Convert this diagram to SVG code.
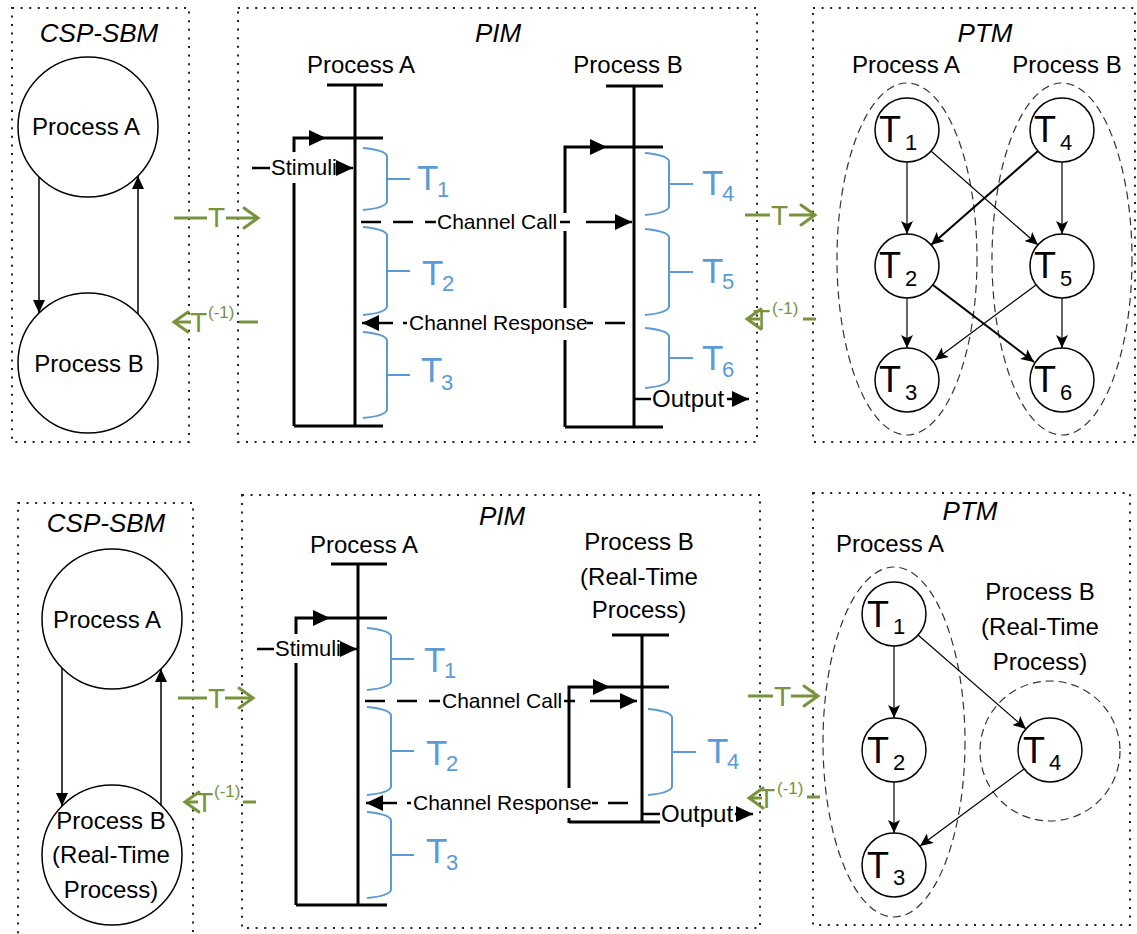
<svg xmlns="http://www.w3.org/2000/svg" width="1137" height="934" viewBox="0 0 1137 934">
<style>
text{font-family:"Liberation Sans",Arial,sans-serif;fill:#000}
.box{fill:none;stroke:#222;stroke-width:2;stroke-dasharray:2 6.6}
.title{font-size:26px;font-style:italic;text-anchor:middle}
.proc{font-size:24px;text-anchor:middle}
.lab{font-size:21px}
.node{fill:#fff;stroke:#000;stroke-width:1.5}
.lane{fill:none;stroke:#000;stroke-width:3}
.brace{fill:none;stroke:#5B9BD5;stroke-width:2}
.tb{font-size:35px;fill:#5B9BD5}
.tbs{font-size:22px;fill:#5B9BD5}
.pt{font-size:36px}
.pts{font-size:22px}
.grp{fill:none;stroke:#333;stroke-width:1.2;stroke-dasharray:8 5}
.edge{fill:none;stroke:#000;stroke-width:1.2}
.edge2{fill:none;stroke:#000;stroke-width:2}
.cspe{fill:none;stroke:#000;stroke-width:1.5}
.dash{fill:none;stroke:#000;stroke-width:2.5;stroke-dasharray:20 12}
.sol{fill:none;stroke:#000;stroke-width:2.5}
.green{fill:none;stroke:#77933C;stroke-width:3}
.gt{font-size:28px;fill:#77933C}
.gs{font-size:17px;fill:#77933C}
</style>
<defs>
<marker id="csptri" viewBox="0 0 13 12" refX="13" refY="6" markerWidth="13" markerHeight="12" markerUnits="userSpaceOnUse" orient="auto"><path d="M0,0 L13,6 L0,12 z" fill="#000"/></marker>
<marker id="pimtri" viewBox="0 0 17 16" refX="17" refY="8" markerWidth="17" markerHeight="16" markerUnits="userSpaceOnUse" orient="auto"><path d="M0,0 L17,8 L0,16 z" fill="#000"/></marker>
<marker id="ptmarr" viewBox="0 0 13 12" refX="13" refY="6" markerWidth="13" markerHeight="12" markerUnits="userSpaceOnUse" orient="auto"><path d="M0,0 L13,6 L0,12 L3,6 z" fill="#000"/></marker>
<marker id="chev" viewBox="-3 -3 20 26" refX="14" refY="10" markerWidth="20" markerHeight="26" markerUnits="userSpaceOnUse" orient="auto"><path d="M0,0 L14,10 L0,20" fill="none" stroke="#77933C" stroke-width="3" stroke-linecap="round"/></marker>
</defs>

<g id="panels">
<rect class="box" x="12" y="8" width="177" height="434"/>
<rect class="box" x="238" y="8" width="519" height="434"/>
<rect class="box" x="813" y="8" width="322" height="434"/>
<rect class="box" x="18" y="503" width="175" height="440"/>
<rect class="box" x="242" y="495" width="518" height="433"/>
<rect class="box" x="813" y="493" width="317" height="432"/>
<text class="title" x="99" y="42">CSP-SBM</text>
<text class="title" x="498" y="42">PIM</text>
<text class="title" x="985" y="42">PTM</text>
<text class="title" x="106" y="532">CSP-SBM</text>
<text class="title" x="502" y="525">PIM</text>
<text class="title" x="970" y="520">PTM</text>
</g>

<!-- ===== Top row ===== -->
<g id="csp1-procA"><circle class="node" cx="88" cy="127" r="70"/><text class="proc" x="86" y="135">Process A</text></g>
<g id="csp1-procB"><circle class="node" cx="88" cy="363" r="70"/><text class="proc" x="89" y="372">Process B</text></g>

<g id="pim1-procA">
<text class="proc" x="361" y="73">Process A</text>
<path class="lane" d="M327,85 H383 M355,85 V426 M294,426 H383 M326,138 H383 M294,183 V426"/>
<path class="lane" d="M294,152 V138 H326" marker-end="url(#pimtri)"/>
<path class="brace" d="M363,148 Q385,150 387,156 V202 Q385,208 363,210 M387,179 H410"/>
<path class="brace" d="M363,227 Q385,229 387,235 V307 Q385,313 363,315 M387,271 H410"/>
<path class="brace" d="M363,332 Q385,334 387,340 V410 Q385,416 363,418 M387,375 H410"/>
<text class="tb" x="417" y="190">T<tspan class="tbs" x="437" y="197">1</tspan></text>
<text class="tb" x="422" y="285">T<tspan class="tbs" x="442" y="291">2</tspan></text>
<text class="tb" x="421" y="382">T<tspan class="tbs" x="441" y="390">3</tspan></text>
</g>

<g id="pim1-procB">
<text class="proc" x="628" y="73">Process B</text>
<path class="lane" d="M606,86 H663 M634,86 V427 M565,427 H663 M607,147 H663 M565,231 V308 M565,340 V427"/>
<path class="lane" d="M565,213 V147 H607" marker-end="url(#pimtri)"/>
<path class="brace" d="M645,153 Q667,155 669,161 V207 Q667,213 645,215 M669,184 H693"/>
<path class="brace" d="M645,229 Q667,231 669,237 V307 Q667,313 645,315 M669,272 H693"/>
<path class="brace" d="M645,328 Q667,330 669,336 V380 Q667,386 645,388 M669,358 H693"/>
<text class="tb" x="702" y="195">T<tspan class="tbs" x="722" y="201">4</tspan></text>
<text class="tb" x="702" y="283">T<tspan class="tbs" x="722" y="289">5</tspan></text>
<text class="tb" x="702" y="370">T<tspan class="tbs" x="722" y="377">6</tspan></text>
</g>

<g id="ptm1-groups">
<ellipse class="grp" cx="907" cy="259" rx="70" ry="176"/>
<ellipse class="grp" cx="1062" cy="259" rx="70" ry="176"/>
<text class="proc" x="906" y="73">Process A</text>
<text class="proc" x="1067" y="73">Process B</text>
</g>
<g id="ptm1-T1"><circle class="node" cx="907" cy="130" r="32"/><text class="pt" x="879" y="142">T<tspan class="pts" x="905" y="150">1</tspan></text></g>
<g id="ptm1-T2"><circle class="node" cx="907" cy="266" r="32"/><text class="pt" x="879" y="278">T<tspan class="pts" x="905" y="286">2</tspan></text></g>
<g id="ptm1-T3"><circle class="node" cx="907" cy="380" r="32"/><text class="pt" x="879" y="392">T<tspan class="pts" x="905" y="400">3</tspan></text></g>
<g id="ptm1-T4"><circle class="node" cx="1062" cy="130" r="32"/><text class="pt" x="1034" y="142">T<tspan class="pts" x="1060" y="150">4</tspan></text></g>
<g id="ptm1-T5"><circle class="node" cx="1062" cy="266" r="32"/><text class="pt" x="1034" y="278">T<tspan class="pts" x="1060" y="286">5</tspan></text></g>
<g id="ptm1-T6"><circle class="node" cx="1062" cy="380" r="32"/><text class="pt" x="1034" y="392">T<tspan class="pts" x="1060" y="400">6</tspan></text></g>

<!-- ===== Bottom row ===== -->
<g id="csp2-procA"><circle class="node" cx="112" cy="619" r="70"/><text class="proc" x="107" y="628">Process A</text></g>
<g id="csp2-procB"><circle class="node" cx="112" cy="855" r="70"/>
<text class="proc" x="111" y="829">Process B</text><text class="proc" x="111" y="863">(Real-Time</text><text class="proc" x="111" y="898">Process)</text></g>

<g id="pim2-procA">
<text class="proc" x="364" y="553">Process A</text>
<path class="lane" d="M331,564 H387 M358,564 V905 M296,905 H387 M330,618 H387 M296,663 V905"/>
<path class="lane" d="M296,634 V618 H330" marker-end="url(#pimtri)"/>
<path class="brace" d="M367,628 Q389,630 391,636 V682 Q389,688 367,690 M391,659 H414"/>
<path class="brace" d="M367,707 Q389,709 391,715 V787 Q389,793 367,795 M391,751 H414"/>
<path class="brace" d="M367,812 Q389,814 391,820 V890 Q389,896 367,898 M391,855 H414"/>
<text class="tb" x="424" y="672">T<tspan class="tbs" x="444" y="678">1</tspan></text>
<text class="tb" x="426" y="765">T<tspan class="tbs" x="446" y="771">2</tspan></text>
<text class="tb" x="426" y="863">T<tspan class="tbs" x="446" y="870">3</tspan></text>
</g>

<g id="pim2-procB">
<text class="proc" x="639" y="550">Process B</text>
<text class="proc" x="639" y="585">(Real-Time</text>
<text class="proc" x="639" y="618">Process)</text>
<path class="lane" d="M612,635 H669 M642,635 V823 M569,822 H660 M610,687 H669 M569,818 V823"/>
<path class="lane" d="M569,788 V687 H610" marker-end="url(#pimtri)"/>
<path class="brace" d="M648,709 Q670,711 672,717 V787 Q670,793 648,795 M672,752 H696"/>
<text class="tb" x="707" y="763">T<tspan class="tbs" x="727" y="769">4</tspan></text>
</g>

<g id="ptm2-groups">
<ellipse class="grp" cx="894" cy="742" rx="71" ry="175"/>
<circle class="grp" cx="1050" cy="751" r="70"/>
<text class="proc" x="890" y="552">Process A</text>
<text class="proc" x="1040" y="600">Process B</text>
<text class="proc" x="1040" y="635">(Real-Time</text>
<text class="proc" x="1040" y="670">Process)</text>
</g>
<g id="ptm2-T1"><circle class="node" cx="894" cy="614" r="32"/><text class="pt" x="867" y="627">T<tspan class="pts" x="893" y="634">1</tspan></text></g>
<g id="ptm2-T2"><circle class="node" cx="894" cy="750" r="32"/><text class="pt" x="867" y="763">T<tspan class="pts" x="893" y="770">2</tspan></text></g>
<g id="ptm2-T3"><circle class="node" cx="894" cy="865" r="32"/><text class="pt" x="867" y="878">T<tspan class="pts" x="893" y="885">3</tspan></text></g>
<g id="ptm2-T4"><circle class="node" cx="1050" cy="750" r="32"/><text class="pt" x="1023" y="763">T<tspan class="pts" x="1049" y="770">4</tspan></text></g>

<g id="connectors">
<!-- CSP top -->
<path class="cspe" d="M39,177 V313" marker-end="url(#csptri)"/>
<path class="cspe" d="M138,314 V176" marker-end="url(#csptri)"/>
<!-- CSP bottom -->
<path class="cspe" d="M62,668 V806" marker-end="url(#csptri)"/>
<path class="cspe" d="M161,806 V669" marker-end="url(#csptri)"/>

<!-- PIM top -->
<path class="sol" d="M252,168 H270"/>
<text style="font-size:22px" x="271" y="175">Stimuli</text>
<path class="sol" d="M338,168 H353" marker-end="url(#pimtri)"/>
<path class="dash" d="M361,222 H436"/>
<text class="lab" x="437" y="229">Channel Call</text>
<path class="sol" d="M560,222 H570 M586,222 H632" marker-end="url(#pimtri)"/>
<path class="sol" d="M625,323 H605 M593,323 H587"/>
<text class="lab" x="409" y="330">Channel Response</text>
<path class="sol" d="M407,323 H403"/>
<path class="sol" d="M393,323 H362" marker-end="url(#pimtri)"/>
<path class="sol" d="M634,399 H651"/>
<text style="font-size:24px" x="652" y="407">Output</text>
<path class="sol" d="M727,399 H749" marker-end="url(#pimtri)"/>

<!-- PIM bottom -->
<path class="sol" d="M257,649 H274"/>
<text style="font-size:22px" x="275" y="656">Stimuli</text>
<path class="sol" d="M341,649 H357" marker-end="url(#pimtri)"/>
<path class="dash" d="M365,701 H440"/>
<text class="lab" x="442" y="708">Channel Call</text>
<path class="sol" d="M564,701 H575 M590,701 H637" marker-end="url(#pimtri)"/>
<path class="sol" d="M628,803 H608 M598,803 H592"/>
<text class="lab" x="413" y="810">Channel Response</text>
<path class="sol" d="M411,803 H407"/>
<path class="sol" d="M397,803 H366" marker-end="url(#pimtri)"/>
<path class="sol" d="M642,814 H660"/>
<text style="font-size:24px" x="661" y="822">Output</text>
<path class="sol" d="M735,814 H753" marker-end="url(#pimtri)"/>

<!-- PTM top -->
<path class="edge" d="M907,162 V234" marker-end="url(#ptmarr)"/>
<path class="edge" d="M907,298 V348" marker-end="url(#ptmarr)"/>
<path class="edge" d="M1062,162 V234" marker-end="url(#ptmarr)"/>
<path class="edge" d="M1062,298 V348" marker-end="url(#ptmarr)"/>
<path class="edge" d="M931,151 L1038,245" marker-end="url(#ptmarr)"/>
<path class="edge2" d="M1038,151 L931,245" marker-end="url(#ptmarr)"/>
<path class="edge2" d="M933,285 L1034,362" marker-end="url(#ptmarr)"/>
<path class="edge" d="M1036,285 L935,360" marker-end="url(#ptmarr)"/>

<!-- PTM bottom -->
<path class="edge" d="M894,646 V718" marker-end="url(#ptmarr)"/>
<path class="edge" d="M894,782 V833" marker-end="url(#ptmarr)"/>
<path class="edge" d="M918,635 L1026,729" marker-end="url(#ptmarr)"/>
<path class="edge" d="M1024,769 L920,846" marker-end="url(#ptmarr)"/>

<!-- green transformations -->
<path class="green" d="M174,218 H207"/>
<text class="gt" x="208" y="227">T</text>
<path class="green" d="M226,218 H258" marker-end="url(#chev)"/>
<path class="green" d="M191,322 H174" marker-end="url(#chev)"/>
<text class="gt" x="190" y="332">T</text>
<text class="gs" x="208" y="318">(-1)</text>
<path class="green" d="M239,322 H258"/>

<path class="green" d="M745,215 H770"/>
<text class="gt" x="771" y="225">T</text>
<path class="green" d="M789,215 H815" marker-end="url(#chev)"/>
<path class="green" d="M760,319 H747" marker-end="url(#chev)"/>
<text class="gt" x="753" y="329">T</text>
<text class="gs" x="772" y="314">(-1)</text>
<path class="green" d="M803,319 H816"/>

<path class="green" d="M178,698 H207"/>
<text class="gt" x="208" y="708">T</text>
<path class="green" d="M225,698 H253" marker-end="url(#chev)"/>
<path class="green" d="M198,802 H185" marker-end="url(#chev)"/>
<text class="gt" x="196" y="812">T</text>
<text class="gs" x="214" y="797">(-1)</text>
<path class="green" d="M243,802 H256"/>

<path class="green" d="M748,696 H773"/>
<text class="gt" x="774" y="706">T</text>
<path class="green" d="M791,696 H818" marker-end="url(#chev)"/>
<path class="green" d="M762,798 H749" marker-end="url(#chev)"/>
<text class="gt" x="758" y="808">T</text>
<text class="gs" x="777" y="794">(-1)</text>
<path class="green" d="M807,797 H820"/>
</g>
</svg>
